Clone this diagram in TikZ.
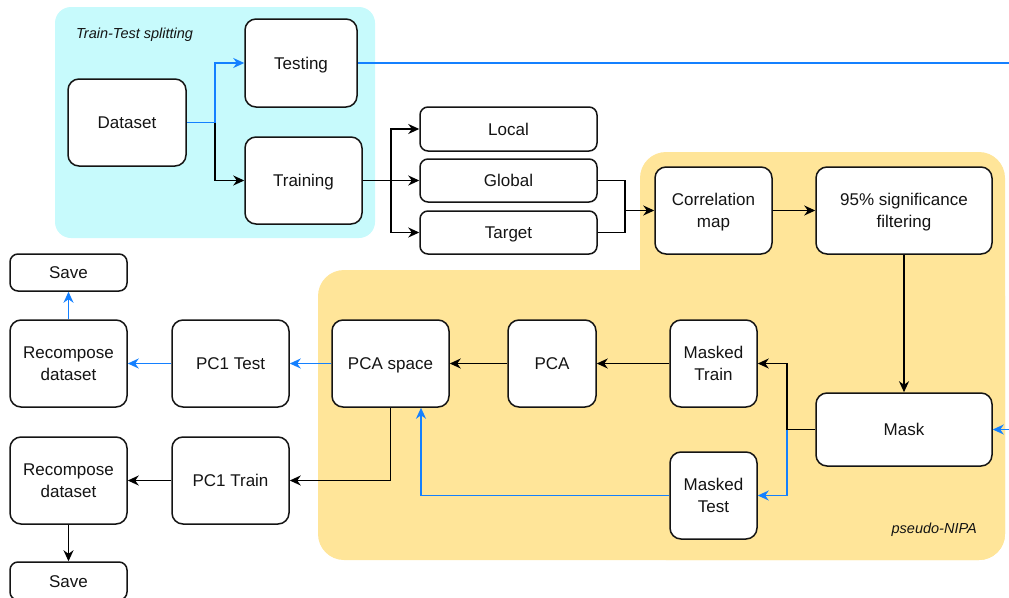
\documentclass[tikz,border=0pt]{standalone}
\usepackage{fontspec}
\setmainfont{Liberation Sans}
\usetikzlibrary{arrows.meta}
\definecolor{cyanbg}{RGB}{199,250,252}
\definecolor{yellowbg}{RGB}{255,229,153}
\definecolor{flowblue}{RGB}{20,128,255}
\definecolor{txt}{RGB}{20,20,20}
\newcommand\boxtext[1]{\raisebox{-2pt}[\height][\depth]{\begin{tabular}{@{}c@{}}#1\end{tabular}}}
\begin{document}
\begin{tikzpicture}[x=1pt,y=-1pt,
  box/.style={draw=txt, rounded corners=11pt, fill=white, line width=1.5pt,
    inner sep=0pt, text=txt,
    font=\fontsize{17}{22}\selectfont},
  kline/.style={draw=black, line width=1.6pt},
  bline/.style={draw=flowblue, line width=1.6pt},
  karrow/.style={kline, -{Stealth[length=11pt,width=10pt,inset=3.5pt]}},
  barrow/.style={bline, -{Stealth[length=11pt,width=10pt,inset=3.5pt]}},
  grouplabel/.style={font=\fontsize{14.5}{16}\selectfont\itshape, text=txt, inner sep=0pt}
]
\useasboundingbox (0,0) rectangle (1009,597);
% backgrounds
\fill[cyanbg, rounded corners=16pt] (55,7) rectangle (375,238);
\fill[yellowbg, rounded corners=26pt] (640,152) rectangle (1005,560);
\fill[yellowbg, rounded corners=26pt] (318,270) rectangle (1005,560);
\node[grouplabel, anchor=west] (lbl1) at (76,35) {Train-Test splitting};
\node[grouplabel, anchor=east] (lbl2) at (977,530) {pseudo-NIPA};
% nodes
\node[box, minimum width=118, minimum height=87] (dataset) at (127,122.5) {\boxtext{Dataset}};
\node[box, minimum width=112, minimum height=88] (testing) at (301,63) {\boxtext{Testing}};
\node[box, minimum width=117, minimum height=87] (training) at (303.5,180.5) {\boxtext{Training}};
\node[box, minimum width=177, minimum height=44, rounded corners=8pt] (local) at (508.5,129) {\boxtext{Local}};
\node[box, minimum width=177, minimum height=43, rounded corners=8pt] (global) at (508.5,180.5) {\boxtext{Global}};
\node[box, minimum width=177, minimum height=43, rounded corners=8pt] (target) at (508.5,232.5) {\boxtext{Target}};
\node[box, minimum width=117, minimum height=87] (corr) at (713.5,210.5) {\boxtext{Correlation\\map}};
\node[box, minimum width=176, minimum height=87] (sig) at (904,210.5) {\boxtext{95\% significance\\filtering}};
\node[box, minimum width=176, minimum height=73] (mask) at (904,429.5) {\boxtext{Mask}};
\node[box, minimum width=87, minimum height=87] (mtrain) at (713.5,363.5) {\boxtext{Masked\\Train}};
\node[box, minimum width=87, minimum height=87] (mtest) at (713.5,495.5) {\boxtext{Masked\\Test}};
\node[box, minimum width=88, minimum height=87] (pca) at (552,363.5) {\boxtext{PCA}};
\node[box, minimum width=117, minimum height=87] (pcaspace) at (390.5,363.5) {\boxtext{PCA space}};
\node[box, minimum width=117, minimum height=87] (pc1test) at (230.5,363.5) {\boxtext{PC1 Test}};
\node[box, minimum width=117, minimum height=87] (pc1train) at (230.5,480.5) {\boxtext{PC1 Train}};
\node[box, minimum width=117, minimum height=87] (rec1) at (68.5,363.5) {\boxtext{Recompose\\dataset}};
\node[box, minimum width=117, minimum height=87] (rec2) at (68.5,480.5) {\boxtext{Recompose\\dataset}};
\node[box, minimum width=117, minimum height=37, rounded corners=8pt] (save1) at (68.5,272.5) {\boxtext{Save}};
\node[box, minimum width=117, minimum height=38, rounded corners=8pt] (save2) at (68.5,581) {\boxtext{Save}};
% connectors
\coordinate (j1) at (215,122.5);
\draw[bline] (dataset.east) -- (j1);
\draw[barrow] (j1) |- (testing.west);
\draw[karrow] (j1) |- (training.west);
\coordinate (j2) at (391,180.5);
\draw[kline] (training.east) -- (j2);
\draw[karrow] (j2) |- (local.west);
\draw[karrow] (j2) -- (global.west);
\draw[karrow] (j2) |- (target.west);
\coordinate (j3) at (625,210.5);
\draw[kline] (global.east) -| (j3);
\draw[kline] (target.east) -| (j3);
\draw[karrow] (j3) -- (corr.west);
\draw[karrow] (corr.east) -- (sig.west);
\draw[karrow] (sig.south) -- (mask.north);
\coordinate (j4) at (787,429.5);
\draw[kline] (mask.west) -- (j4);
\draw[karrow] (j4) |- (mtrain.east);
\draw[barrow] (j4) |- (mtest.east);
\draw[karrow] (mtrain.west) -- (pca.east);
\draw[karrow] (pca.west) -- (pcaspace.east);
\draw[barrow] (mtest.west) -| ([xshift=30.5pt]pcaspace.south);
\draw[barrow] (pcaspace.west) -- (pc1test.east);
\draw[karrow] (pcaspace.south) |- (pc1train.east);
\draw[barrow] (pc1test.west) -- (rec1.east);
\draw[barrow] (rec1.north) -- (save1.south);
\draw[karrow] (pc1train.west) -- (rec2.east);
\draw[karrow] (rec2.south) -- (save2.north);
\coordinate (far) at (1030,63);
\draw[bline] (testing.east) -- (far);
\draw[barrow] (far) |- (mask.east);
\end{tikzpicture}
\end{document}
